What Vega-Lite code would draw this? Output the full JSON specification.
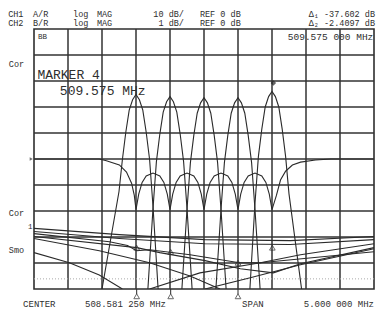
{
  "$schema": "https://vega.github.io/schema/vega-lite/v6.json",
  "width": 340,
  "height": 260,
  "autosize": {"type": "none"},
  "padding": {"left": 34, "top": 29, "right": 2, "bottom": 21},
  "background": "white",
  "config": {
    "view": {"stroke": "#2e2e2e", "strokeWidth": 1.6},
    "text": {"font": "Liberation Mono", "color": "#2e2e2e"}
  },
  "datasets": {
    "grid": [{"g":1},{"g":2},{"g":3},{"g":4},{"g":5},{"g":6},{"g":7},{"g":8},{"g":9}],
    "traces": [
      {"s":"p1","i":0,"x":2.0,"y":0},{"s":"p1","i":1,"x":2.3,"y":2.25},{"s":"p1","i":2,"x":2.5,"y":3.75},{"s":"p1","i":3,"x":2.6,"y":4.98},{"s":"p1","i":4,"x":2.7,"y":6.03},{"s":"p1","i":5,"x":2.8,"y":6.88},{"s":"p1","i":6,"x":2.9,"y":7.28},{"s":"p1","i":7,"x":3.0,"y":7.48},{"s":"p1","i":8,"x":3.1,"y":7.28},{"s":"p1","i":9,"x":3.2,"y":6.88},{"s":"p1","i":10,"x":3.3,"y":6.03},{"s":"p1","i":11,"x":3.4,"y":4.98},{"s":"p1","i":12,"x":3.5,"y":3.18},{"s":"p1","i":13,"x":3.65,"y":0},
      {"s":"p2","i":0,"x":3.35,"y":0},{"s":"p2","i":1,"x":3.5,"y":3.10},{"s":"p2","i":2,"x":3.6,"y":4.90},{"s":"p2","i":3,"x":3.7,"y":5.95},{"s":"p2","i":4,"x":3.8,"y":6.80},{"s":"p2","i":5,"x":3.9,"y":7.20},{"s":"p2","i":6,"x":4.0,"y":7.40},{"s":"p2","i":7,"x":4.1,"y":7.20},{"s":"p2","i":8,"x":4.2,"y":6.80},{"s":"p2","i":9,"x":4.3,"y":5.95},{"s":"p2","i":10,"x":4.4,"y":4.90},{"s":"p2","i":11,"x":4.5,"y":3.10},{"s":"p2","i":12,"x":4.65,"y":0},
      {"s":"p3","i":0,"x":4.35,"y":0},{"s":"p3","i":1,"x":4.5,"y":3.06},{"s":"p3","i":2,"x":4.6,"y":4.86},{"s":"p3","i":3,"x":4.7,"y":5.91},{"s":"p3","i":4,"x":4.8,"y":6.76},{"s":"p3","i":5,"x":4.9,"y":7.16},{"s":"p3","i":6,"x":5.0,"y":7.36},{"s":"p3","i":7,"x":5.1,"y":7.16},{"s":"p3","i":8,"x":5.2,"y":6.76},{"s":"p3","i":9,"x":5.3,"y":5.91},{"s":"p3","i":10,"x":5.4,"y":4.86},{"s":"p3","i":11,"x":5.5,"y":3.06},{"s":"p3","i":12,"x":5.65,"y":0},
      {"s":"p4","i":0,"x":5.35,"y":0},{"s":"p4","i":1,"x":5.5,"y":3.06},{"s":"p4","i":2,"x":5.6,"y":4.86},{"s":"p4","i":3,"x":5.7,"y":5.91},{"s":"p4","i":4,"x":5.8,"y":6.76},{"s":"p4","i":5,"x":5.9,"y":7.16},{"s":"p4","i":6,"x":6.0,"y":7.36},{"s":"p4","i":7,"x":6.1,"y":7.16},{"s":"p4","i":8,"x":6.2,"y":6.76},{"s":"p4","i":9,"x":6.3,"y":5.91},{"s":"p4","i":10,"x":6.4,"y":4.86},{"s":"p4","i":11,"x":6.5,"y":3.06},{"s":"p4","i":12,"x":6.65,"y":0},
      {"s":"p5","i":0,"x":6.35,"y":0},{"s":"p5","i":1,"x":6.5,"y":3.30},{"s":"p5","i":2,"x":6.6,"y":5.10},{"s":"p5","i":3,"x":6.7,"y":6.15},{"s":"p5","i":4,"x":6.8,"y":7.00},{"s":"p5","i":5,"x":6.9,"y":7.40},{"s":"p5","i":6,"x":7.0,"y":7.60},{"s":"p5","i":7,"x":7.1,"y":7.40},{"s":"p5","i":8,"x":7.2,"y":7.00},{"s":"p5","i":9,"x":7.3,"y":6.15},{"s":"p5","i":10,"x":7.4,"y":5.10},{"s":"p5","i":11,"x":7.5,"y":3.66},{"s":"p5","i":12,"x":7.87,"y":0},
      {"s":"ch2","i":0,"x":0,"y":5.0},{"s":"ch2","i":1,"x":1.92,"y":5.0},{"s":"ch2","i":2,"x":2.13,"y":4.93},{"s":"ch2","i":3,"x":2.51,"y":4.77},{"s":"ch2","i":4,"x":2.72,"y":4.50},{"s":"ch2","i":5,"x":2.87,"y":4.07},{"s":"ch2","i":6,"x":2.95,"y":3.6},{"s":"ch2","i":7,"x":3.0,"y":3.05},
      {"s":"ch2","i":8,"x":3.08,"y":3.65},{"s":"ch2","i":9,"x":3.18,"y":4.1},{"s":"ch2","i":10,"x":3.3,"y":4.35},{"s":"ch2","i":11,"x":3.5,"y":4.46},{"s":"ch2","i":12,"x":3.7,"y":4.35},{"s":"ch2","i":13,"x":3.82,"y":4.1},{"s":"ch2","i":14,"x":3.92,"y":3.65},{"s":"ch2","i":15,"x":4.0,"y":3.05},
      {"s":"ch2","i":16,"x":4.08,"y":3.65},{"s":"ch2","i":17,"x":4.18,"y":4.1},{"s":"ch2","i":18,"x":4.3,"y":4.35},{"s":"ch2","i":19,"x":4.5,"y":4.46},{"s":"ch2","i":20,"x":4.7,"y":4.35},{"s":"ch2","i":21,"x":4.82,"y":4.1},{"s":"ch2","i":22,"x":4.92,"y":3.65},{"s":"ch2","i":23,"x":5.0,"y":3.05},
      {"s":"ch2","i":24,"x":5.08,"y":3.65},{"s":"ch2","i":25,"x":5.18,"y":4.1},{"s":"ch2","i":26,"x":5.3,"y":4.35},{"s":"ch2","i":27,"x":5.5,"y":4.46},{"s":"ch2","i":28,"x":5.7,"y":4.35},{"s":"ch2","i":29,"x":5.82,"y":4.1},{"s":"ch2","i":30,"x":5.92,"y":3.65},{"s":"ch2","i":31,"x":6.0,"y":3.05},
      {"s":"ch2","i":32,"x":6.08,"y":3.65},{"s":"ch2","i":33,"x":6.18,"y":4.1},{"s":"ch2","i":34,"x":6.3,"y":4.35},{"s":"ch2","i":35,"x":6.5,"y":4.46},{"s":"ch2","i":36,"x":6.7,"y":4.35},{"s":"ch2","i":37,"x":6.82,"y":4.1},{"s":"ch2","i":38,"x":6.92,"y":3.65},{"s":"ch2","i":39,"x":7.0,"y":3.05},
      {"s":"ch2","i":40,"x":7.13,"y":3.6},{"s":"ch2","i":41,"x":7.25,"y":4.19},{"s":"ch2","i":42,"x":7.40,"y":4.53},{"s":"ch2","i":43,"x":7.60,"y":4.77},{"s":"ch2","i":44,"x":7.84,"y":4.88},{"s":"ch2","i":45,"x":8.28,"y":4.96},{"s":"ch2","i":46,"x":8.73,"y":5.0},{"s":"ch2","i":47,"x":10,"y":5.0},
      {"s":"l1","i":0,"x":0,"y":2.33},{"s":"l1","i":1,"x":2.51,"y":2.09},{"s":"l1","i":2,"x":5.03,"y":1.90},{"s":"l1","i":3,"x":7.54,"y":1.86},{"s":"l1","i":4,"x":10,"y":2.02},
      {"s":"l2","i":0,"x":0,"y":2.21},{"s":"l2","i":1,"x":2.51,"y":1.94},{"s":"l2","i":2,"x":5.03,"y":1.74},{"s":"l2","i":3,"x":7.54,"y":1.71},{"s":"l2","i":4,"x":10,"y":1.90},
      {"s":"l3","i":0,"x":0,"y":2.13},{"s":"l3","i":1,"x":2.22,"y":1.82},{"s":"l3","i":2,"x":2.75,"y":1.67},{"s":"l3","i":3,"x":3.02,"y":1.47},{"s":"l3","i":4,"x":3.40,"y":1.51},{"s":"l3","i":5,"x":4.59,"y":1.32},{"s":"l3","i":6,"x":6.04,"y":1.01},{"s":"l3","i":7,"x":6.66,"y":1.01},{"s":"l3","i":8,"x":7.84,"y":1.32},{"s":"l3","i":9,"x":10,"y":1.74},
      {"s":"l4","i":0,"x":0,"y":2.02},{"s":"l4","i":1,"x":3.02,"y":1.59},{"s":"l4","i":2,"x":3.70,"y":1.40},{"s":"l4","i":3,"x":5.03,"y":1.09},{"s":"l4","i":4,"x":6.07,"y":0.78},{"s":"l4","i":5,"x":7.04,"y":0.62},{"s":"l4","i":6,"x":7.84,"y":0.97},{"s":"l4","i":7,"x":10,"y":1.59},
      {"s":"l5","i":0,"x":0,"y":1.94},{"s":"l5","i":1,"x":1.92,"y":1.47},{"s":"l5","i":2,"x":3.40,"y":1.01},{"s":"l5","i":3,"x":4.59,"y":0.50},{"s":"l5","i":4,"x":5.47,"y":0},
      {"s":"l6","i":0,"x":0,"y":1.40},{"s":"l6","i":1,"x":1.04,"y":1.01},{"s":"l6","i":2,"x":1.92,"y":0.54},{"s":"l6","i":3,"x":2.60,"y":0},
      {"s":"l7","i":0,"x":3.40,"y":0},{"s":"l7","i":1,"x":4.88,"y":0.62},{"s":"l7","i":2,"x":6.66,"y":1.01},{"s":"l7","i":3,"x":10,"y":1.43},
      {"s":"l8","i":0,"x":5.03,"y":0},{"s":"l8","i":1,"x":6.36,"y":0.43},{"s":"l8","i":2,"x":7.84,"y":0.93},{"s":"l8","i":3,"x":10,"y":1.55}
    ],
    "labelsLeft": [
      {"t":"CH1","x":-0.76,"y":10.58,"s":8.5},
      {"t":"A/R","x":-0.03,"y":10.58,"s":8.5},
      {"t":"log","x":1.15,"y":10.58,"s":8.5},
      {"t":"MAG","x":1.85,"y":10.58,"s":8.5},
      {"t":"REF 0 dB","x":4.88,"y":10.58,"s":8.5},
      {"t":"CH2","x":-0.76,"y":10.22,"s":8.5},
      {"t":"B/R","x":-0.03,"y":10.22,"s":8.5},
      {"t":"log","x":1.15,"y":10.22,"s":8.5},
      {"t":"MAG","x":1.85,"y":10.22,"s":8.5},
      {"t":"REF 0 dB","x":4.88,"y":10.22,"s":8.5},
      {"t":"BB","x":0.12,"y":9.69,"s":7.5},
      {"t":"Cor","x":-0.74,"y":8.65,"s":8.5},
      {"t":"Cor","x":-0.74,"y":2.92,"s":8.5},
      {"t":"Smo","x":-0.74,"y":1.5,"s":8.5},
      {"t":"MARKER 4","x":0.1,"y":8.23,"s":13},
      {"t":"509.575 MHz","x":0.76,"y":7.62,"s":13},
      {"t":"CENTER","x":-0.32,"y":-0.58,"s":9},
      {"t":"508.581 250 MHz","x":1.5,"y":-0.58,"s":9},
      {"t":"SPAN","x":6.12,"y":-0.58,"s":9}
    ],
    "labelsRight": [
      {"t":"10 dB/","x":4.41,"y":10.58,"s":8.5},
      {"t":"1 dB/","x":4.41,"y":10.22,"s":8.5},
      {"t":"Δ₁ -37.602 dB","x":10.03,"y":10.58,"s":8.5},
      {"t":"Δ₂ -2.4097 dB","x":10.03,"y":10.22,"s":8.5},
      {"t":"509.575 000 MHz","x":9.98,"y":9.69,"s":9.5},
      {"t":"5.000 000 MHz","x":10.0,"y":-0.58,"s":9},
      {"t":"1","x":-0.04,"y":2.37,"s":7.5}
    ],
    "markersOpen": [
      {"x":3.02,"y":1.59},{"x":4.02,"y":1.43},{"x":6.0,"y":1.01},{"x":7.01,"y":1.59},
      {"x":3.02,"y":-0.28},{"x":4.02,"y":-0.28},{"x":6.0,"y":-0.28}
    ],
    "stems": [
      {"x":3.02,"y":0,"y2":-0.2},{"x":4.02,"y":0,"y2":-0.2},{"x":6.0,"y":0,"y2":-0.2}
    ]
  },
  "encoding": {
    "x": {"type": "quantitative", "scale": {"domain": [0, 10], "nice": false, "zero": false}, "axis": null},
    "y": {"type": "quantitative", "scale": {"domain": [0, 10], "nice": false, "zero": false}, "axis": null}
  },
  "layer": [
    {
      "data": {"name": "grid"},
      "mark": {"type": "rule", "color": "#333333", "strokeWidth": 1.5},
      "encoding": {"x": {"field": "g", "type": "quantitative"}}
    },
    {
      "data": {"name": "grid"},
      "mark": {"type": "rule", "color": "#333333", "strokeWidth": 1.5},
      "encoding": {"y": {"field": "g", "type": "quantitative"}}
    },
    {
      "data": {"values": [{"y": 0.39}]},
      "mark": {"type": "rule", "color": "#aaaaaa", "strokeDash": [1, 2], "strokeWidth": 1},
      "encoding": {"y": {"field": "y", "type": "quantitative"}}
    },
    {
      "data": {"name": "traces"},
      "mark": {"type": "line", "color": "#2a2a2a", "strokeWidth": 1.1, "clip": true},
      "encoding": {
        "x": {"field": "x", "type": "quantitative"},
        "y": {"field": "y", "type": "quantitative"},
        "detail": {"field": "s", "type": "nominal"},
        "order": {"field": "i", "type": "quantitative"}
      }
    },
    {
      "data": {"name": "stems"},
      "mark": {"type": "rule", "color": "#2a2a2a", "strokeWidth": 1, "clip": false},
      "encoding": {
        "x": {"field": "x", "type": "quantitative"},
        "y": {"field": "y", "type": "quantitative"},
        "y2": {"field": "y2"}
      }
    },
    {
      "data": {"name": "markersOpen"},
      "mark": {"type": "point", "shape": "triangle-up", "filled": false, "color": "#2a2a2a", "size": 32, "strokeWidth": 1, "clip": false},
      "encoding": {
        "x": {"field": "x", "type": "quantitative"},
        "y": {"field": "y", "type": "quantitative"}
      }
    },
    {
      "data": {"values": [{"x": 7.04, "y": 7.92}]},
      "mark": {"type": "point", "shape": "diamond", "filled": true, "color": "#222222", "size": 30},
      "encoding": {
        "x": {"field": "x", "type": "quantitative"},
        "y": {"field": "y", "type": "quantitative"}
      }
    },
    {
      "data": {"values": [{"x": -0.08, "y": 5.0}]},
      "mark": {"type": "point", "shape": "triangle-right", "filled": true, "color": "#333333", "size": 14, "clip": false},
      "encoding": {
        "x": {"field": "x", "type": "quantitative"},
        "y": {"field": "y", "type": "quantitative"}
      }
    },
    {
      "data": {"name": "labelsLeft"},
      "mark": {"type": "text", "align": "left", "baseline": "middle", "clip": false},
      "encoding": {
        "x": {"field": "x", "type": "quantitative"},
        "y": {"field": "y", "type": "quantitative"},
        "text": {"field": "t"},
        "size": {"field": "s", "type": "quantitative", "scale": null}
      }
    },
    {
      "data": {"name": "labelsRight"},
      "mark": {"type": "text", "align": "right", "baseline": "middle", "clip": false},
      "encoding": {
        "x": {"field": "x", "type": "quantitative"},
        "y": {"field": "y", "type": "quantitative"},
        "text": {"field": "t"},
        "size": {"field": "s", "type": "quantitative", "scale": null}
      }
    }
  ]
}
